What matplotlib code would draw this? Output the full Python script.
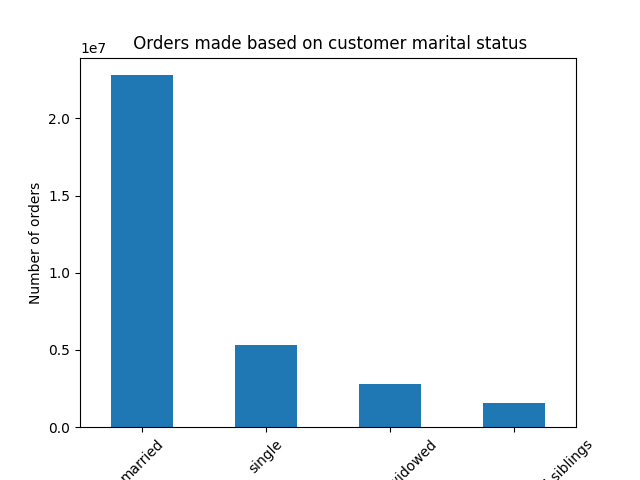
import matplotlib
matplotlib.use("Agg")
import matplotlib.pyplot as plt

categories = ["married", "single", "divorced/widowed", "living with parents and siblings"]
orders = [22790000, 5310000, 2780000, 1555000]

fig, ax = plt.subplots(figsize=(6.4, 4.8), dpi=100)
x = list(range(len(categories)))
ax.bar(x, orders, width=0.5, color="#1f77b4")
ax.set_xlim(-0.5, len(categories) - 0.5)
ax.set_xticks(x)
ax.set_xticklabels(categories, rotation=45)
ax.set_ylabel("Number of orders")
ax.set_title(" Orders made based on customer marital status")
fig.savefig("out.png", dpi=100)
